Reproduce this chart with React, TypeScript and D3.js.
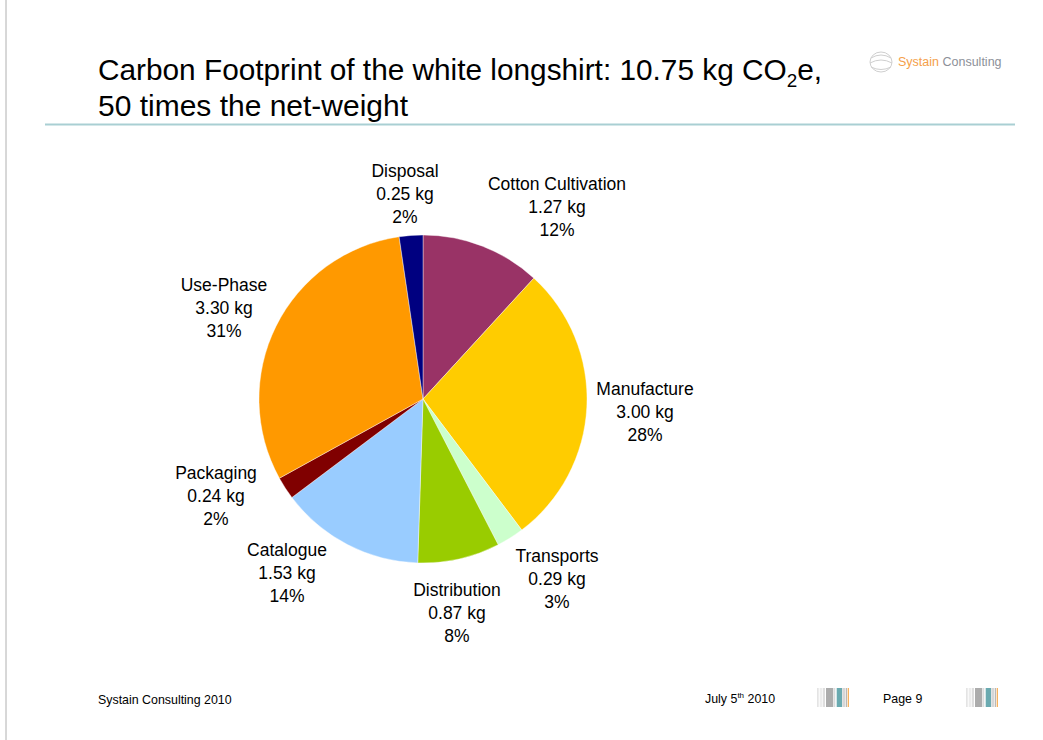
import React from "react";
import * as d3 from "d3";

const categories = ["Cotton Cultivation", "Manufacture", "Transports", "Distribution", "Catalogue", "Packaging", "Use-Phase", "Disposal"];
const values = [1.27, 3.0, 0.29, 0.87, 1.53, 0.24, 3.3, 0.25];
const percents = ["12%", "28%", "3%", "8%", "14%", "2%", "31%", "2%"];
const colors = ["#993366", "#FFCC00", "#CCFFCC", "#99CC00", "#99CCFF", "#800000", "#FF9900", "#000080"];
// label anchor (center x, first baseline y)
const labelPos: [number, number][] = [
  [557, 190], [645, 395], [557, 562], [457, 596], [287, 556], [216, 479], [224, 291], [405, 177],
];

const W = 1043, H = 740;
const cx = 423, cy = 399, R = 164;

function BarIcon({ x }: { x: number }) {
  const stripes: [number, number, string][] = [
    [0, 1.7, "#e4e4e4"], [2.7, 2.3, "#ececec"], [5.7, 2.3, "#dedede"], [9, 7.3, "#acacac"],
    [17, 1.3, "#dcdcdc"], [19.7, 5.3, "#6aaab0"], [25.3, 2.7, "#d6d6d6"], [28.7, 1.3, "#b8b8b8"], [30.7, 1.2, "#f5a94e"],
  ];
  return (
    <g>
      {stripes.map(([sx, w, c], i) => (
        <rect key={i} x={x + sx} y={688} width={w} height={19} fill={c} />
      ))}
    </g>
  );
}

export default function App() {
  const pie = d3.pie<number>().sort(null).value((d) => d)(values);
  const arc = d3.arc<d3.PieArcDatum<number>>().innerRadius(0).outerRadius(R);
  const font = "Liberation Sans, Arial, Helvetica, sans-serif";
  return (
    <div style={{ position: "fixed", left: 0, top: 0 }}>
      <svg width={W} height={H} style={{ display: "block", background: "#fff" }}>
        <rect x={0} y={0} width={W} height={H} fill="#fff" />
        <line x1={6} y1={0} x2={6} y2={H} stroke="#b0b0b0" strokeWidth={1} />
        <text x={98} y={80} fontFamily={font} fontSize={30} fill="#000" textLength={724} lengthAdjust="spacingAndGlyphs">
          Carbon Footprint of the white longshirt: 10.75 kg CO
          <tspan fontSize={19} dy={7}>2</tspan>
          <tspan dy={-7}>e,</tspan>
        </text>
        <text x={98} y={116} fontFamily={font} fontSize={30} fill="#000" textLength={310} lengthAdjust="spacingAndGlyphs">50 times the net-weight</text>
        <line x1={45} y1={124.5} x2={1015} y2={124.5} stroke="#a9cfd3" strokeWidth={2} />

        {/* logo */}
        <g fill="none" stroke="#cfcfcf" strokeWidth={1}>
          <ellipse cx={881} cy={62} rx={11} ry={10} />
          <path d="M871,58 Q881,52 891,58" />
          <path d="M870,63 Q881,57 892,63" />
          <path d="M871,67 Q881,72 891,67" />
        </g>
        <text x={898} y={66} fontFamily={font} fontSize={12.5}>
          <tspan fill="#f5a04a">Systain</tspan>
          <tspan fill="#8c9098"> Consulting</tspan>
        </text>

        <g transform={`translate(${cx},${cy})`}>
          {pie.map((d, i) => (
            <path key={i} d={arc(d) || ""} fill={colors[i]} stroke="#fff" strokeWidth={0.4} />
          ))}
        </g>

        {categories.map((c, i) => {
          const [lx, ly] = labelPos[i];
          return (
            <text key={c} x={lx} y={ly} textAnchor="middle" fontFamily={font} fontSize={17.5} fill="#000">
              <tspan x={lx} dy={0}>{c}</tspan>
              <tspan x={lx} dy={23}>{values[i].toFixed(2)} kg</tspan>
              <tspan x={lx} dy={23}>{percents[i]}</tspan>
            </text>
          );
        })}

        <text x={98} y={704} fontFamily={font} fontSize={12.4} fill="#000">Systain Consulting 2010</text>
        <text x={705} y={703} fontFamily={font} fontSize={12.4} fill="#000">
          July 5<tspan fontSize={8} dy={-5}>th</tspan>
          <tspan dy={5}> 2010</tspan>
        </text>
        <BarIcon x={817} />
        <text x={883} y={703} fontFamily={font} fontSize={12.4} fill="#000">Page 9</text>
        <BarIcon x={966} />
      </svg>
    </div>
  );
}
